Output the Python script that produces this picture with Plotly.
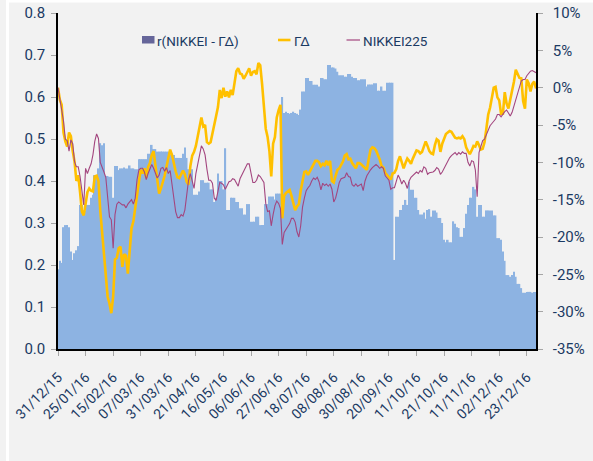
import plotly.graph_objects as go

# Correlation r(NIKKEI - ΓΔ), left axis, one value per trading day
corr = [
    0.19, 0.21, 0.205, 0.29, 0.295, 0.295, 0.29, 0.232, 0.212, 0.228,
    0.235, 0.245, 0.343, 0.343, 0.33, 0.33, 0.343, 0.343, 0.36, 0.367,
    0.414, 0.414, 0.43, 0.49, 0.485, 0.49, 0.41, 0.412, 0.41, 0.41,
    0.36, 0.436, 0.436, 0.426, 0.43, 0.43, 0.432, 0.43, 0.43, 0.437,
    0.43, 0.43, 0.428, 0.428, 0.452, 0.452, 0.452, 0.452, 0.452, 0.465,
    0.465, 0.486, 0.476, 0.476, 0.47, 0.47, 0.47, 0.47, 0.47, 0.47,
    0.47, 0.462, 0.462, 0.462, 0.455, 0.455, 0.455, 0.455, 0.465, 0.48,
    0.455, 0.428, 0.428, 0.428, 0.367, 0.367, 0.367, 0.375, 0.402, 0.402,
    0.396, 0.396, 0.396, 0.38, 0.38, 0.35, 0.36, 0.418, 0.40, 0.40,
    0.38, 0.478, 0.331, 0.331, 0.36, 0.36, 0.36, 0.35, 0.35, 0.335,
    0.335, 0.32, 0.32, 0.345, 0.345, 0.303, 0.303, 0.303, 0.315, 0.315,
    0.295, 0.295, 0.295, 0.345, 0.345, 0.363, 0.363, 0.363, 0.356, 0.37,
    0.37, 0.37, 0.60, 0.562, 0.565, 0.562, 0.56, 0.562, 0.565, 0.562,
    0.56, 0.557, 0.57, 0.613, 0.613, 0.645, 0.645, 0.638, 0.638, 0.629,
    0.629, 0.629, 0.625, 0.645, 0.645, 0.642, 0.642, 0.676, 0.676, 0.67,
    0.67, 0.668, 0.66, 0.652, 0.652, 0.652, 0.648, 0.648, 0.655, 0.655,
    0.648, 0.645, 0.645, 0.64, 0.64, 0.642, 0.642, 0.642, 0.625, 0.63,
    0.63, 0.63, 0.633, 0.633, 0.615, 0.615, 0.625, 0.615, 0.615, 0.634,
    0.634, 0.634, 0.634, 0.212, 0.315, 0.315, 0.331, 0.331, 0.343, 0.355,
    0.343, 0.398, 0.379, 0.379, 0.36, 0.36, 0.331, 0.32, 0.32, 0.325,
    0.31, 0.331, 0.333, 0.315, 0.33, 0.33, 0.325, 0.312, 0.312, 0.3,
    0.26, 0.254, 0.26, 0.254, 0.254, 0.304, 0.298, 0.29, 0.288, 0.267,
    0.267, 0.288, 0.322, 0.343, 0.36, 0.36, 0.386, 0.38, 0.315, 0.343,
    0.343, 0.315, 0.315, 0.33, 0.33, 0.33, 0.33, 0.318, 0.318, 0.264,
    0.264, 0.26, 0.232, 0.21, 0.176, 0.176, 0.172, 0.176, 0.184, 0.172,
    0.155, 0.155, 0.145, 0.134, 0.134, 0.136, 0.136, 0.136, 0.134, 0.136,
    0.136,
]

# ΓΔ cumulative return (%), right axis
gamma_delta = [
    0.0, -1.6, -2.3, -6.0, -7.2, -7.9, -6.0, -6.5, -8.5, -9.9,
    -12.5, -11.7, -14.0, -16.6, -17.1, -15.2, -14.0, -13.5, -13.8, -13.9,
    -11.9, -11.8, -12.5, -16.5, -19.5, -21.5, -25.0, -28.0, -28.9, -30.2,
    -28.0, -23.0, -22.8, -21.5, -21.3, -24.0, -22.3, -22.5, -24.9, -21.8,
    -18.8, -17.9, -16.0, -14.0, -12.6, -11.0, -11.5, -10.8, -12.1, -10.6,
    -10.1, -9.0, -8.5, -10.4, -12.4, -14.2, -13.5, -12.8, -11.8, -10.6,
    -9.2, -8.3, -9.0, -10.2, -11.2, -12.0, -12.1, -11.6, -11.1, -11.6,
    -12.6, -13.0, -10.5, -9.1, -8.6, -7.8, -6.5, -5.0, -4.0, -5.2,
    -5.0, -7.3, -7.5, -7.3, -6.0, -4.6, -3.8, -2.6, -0.3, -1.4,
    0.0, -1.2, -0.5, -1.3, -0.3, -1.0, 0.5, 2.2, 2.6, 1.9,
    1.8, 1.2, 1.6, 2.1, 2.6, 1.6, 2.1, 2.2, 1.8, 3.3,
    3.0, 0.5, -3.0, -5.5, -6.6, -8.5, -11.9, -7.5, -6.6, -4.0,
    -3.0, -2.3, -17.5, -14.5, -14.1, -13.9, -13.7, -14.5, -15.3, -16.4,
    -15.9, -15.6, -13.8, -12.5, -11.3, -11.2, -11.7, -11.2, -10.7, -10.1,
    -9.8, -9.8, -10.0, -10.5, -10.2, -10.4, -9.8, -10.4, -9.8, -12.5,
    -12.7, -11.8, -11.0, -10.8, -10.3, -9.9, -9.1, -8.9, -9.6, -9.5,
    -10.1, -10.4, -10.8, -10.1, -10.1, -10.3, -10.5, -10.8, -11.0, -9.6,
    -8.3, -8.0, -8.1, -8.4, -8.9, -9.6, -10.5, -10.7, -11.4, -11.7,
    -11.9, -12.3, -11.5, -11.4, -10.9, -9.8, -9.2, -10.2, -10.8, -10.1,
    -9.5, -9.8, -10.2, -9.5, -9.0, -8.4, -8.5, -8.8, -8.6, -7.9,
    -7.2, -7.8, -8.5, -8.8, -8.9, -7.7, -6.9, -7.1, -8.6, -7.5,
    -6.8, -6.2, -6.0, -5.8, -5.9, -6.4, -6.7, -6.8, -6.7, -6.8,
    -6.5, -6.9, -8.0, -8.5, -8.9, -8.4, -7.8, -7.9, -7.2, -7.7,
    -8.3, -8.2, -7.3, -5.5, -3.6, -2.7, -1.2, 0.0, 0.1, -1.3,
    -1.7, -3.5, -3.5, -0.6, -2.1, -2.8, -1.6, -0.5, 0.8, 2.4,
    1.8, 1.3, 1.25, -1.8, -2.8, 1.1, 0.6, -0.5, 0.5, 0.8,
    -0.1,
]

# NIKKEI225 cumulative return (%), right axis
nikkei = [
    0.0, -1.5, -3.2, -4.5, -6.9, -7.1, -8.5, -7.0, -7.5, -9.9,
    -10.6, -10.6, -11.9, -14.0, -15.7, -10.8, -11.5, -10.8, -10.2, -9.0,
    -7.2, -6.2, -6.8, -10.0, -10.8, -11.3, -12.0, -15.0, -17.3, -17.7,
    -21.5, -17.0, -15.6, -15.3, -15.5, -15.7, -15.7, -16.1, -15.6, -15.3,
    -15.0, -15.6, -14.8, -12.3, -11.0, -10.8, -10.8, -11.3, -12.3, -11.5,
    -10.8, -10.3, -10.8, -11.6, -12.1, -11.7, -10.8, -10.7, -11.2, -10.7,
    -11.5, -11.1, -13.2, -15.2, -16.6, -17.4, -17.4, -17.0, -17.2, -16.4,
    -14.6, -12.4, -11.5, -12.5, -13.5, -11.5, -10.4, -8.9, -7.8, -8.2,
    -9.0, -10.9, -12.4, -12.4, -12.8, -14.8, -15.1, -13.9, -12.7, -12.8,
    -13.0, -13.6, -13.0, -12.6, -12.5, -12.2, -12.3, -12.7, -13.2, -12.2,
    -11.7, -11.4, -10.9, -10.2, -10.2, -11.7, -12.7, -12.7, -12.4, -11.7,
    -11.9, -12.3, -12.7, -15.5, -16.6, -16.5, -18.5, -17.0, -15.8, -15.2,
    -15.5, -16.2, -21.0, -19.4, -18.9, -18.6, -18.2, -17.5, -17.5, -18.0,
    -19.3, -20.0, -18.5, -16.0, -14.8, -13.8, -13.4, -13.1, -12.5, -12.1,
    -12.3, -12.0, -12.6, -13.7, -12.8, -13.1, -12.9, -13.2, -12.9, -13.6,
    -15.3, -14.8, -13.8, -12.7, -12.2, -12.1, -12.0, -11.4, -11.9, -12.0,
    -13.0, -13.2, -12.9, -13.2, -13.0, -12.9, -13.8, -12.5, -11.8, -11.3,
    -11.0, -10.7, -10.5, -10.3, -10.5, -10.8, -10.6, -10.8, -11.8, -12.1,
    -12.4, -13.6, -13.4, -13.4, -12.5, -11.7, -12.2, -12.9, -12.4, -12.8,
    -13.5, -12.5, -12.0, -11.8, -11.6, -11.3, -11.5, -11.1, -11.3, -10.6,
    -10.8, -11.6, -11.4, -11.4, -11.3, -11.1, -10.7, -10.9, -11.6, -11.3,
    -10.8, -10.5, -10.0, -9.4, -9.1, -8.9, -8.7, -9.0, -8.7, -8.9,
    -8.6, -8.8, -8.8, -10.0, -10.5, -9.8, -9.9, -11.0, -14.6, -8.7,
    -7.8, -7.1, -6.9, -6.2, -5.7, -5.1, -4.8, -4.5, -4.2, -3.6,
    -3.6, -3.9, -3.5, -3.2, -3.0, -3.5, -3.8, -3.3, -2.5, -1.5,
    -0.8, 0.0, 0.9, 1.1, 1.1, 1.6, 1.9, 2.2, 2.3, 2.1,
    2.0,
]

tick_labels = [
    "31/12/15", "25/01/16", "15/02/16", "07/03/16", "31/03/16", "21/04/16",
    "16/05/16", "06/06/16", "27/06/16", "18/07/16", "08/08/16", "30/08/16",
    "20/09/16", "11/10/16", "21/10/16", "11/11/16", "02/12/16", "23/12/16",
]
tick_step = 15
right_ticks = [-35, -30, -25, -20, -15, -10, -5, 0, 5, 10]

series_names = ["r(NIKKEI - ΓΔ)", "ΓΔ", "NIKKEI225"]
bar_color = "#8db3e2"
bar_legend_color = "#66669a"
gd_color = "#ffc000"
nk_color = "#a3467f"

x = list(range(len(corr)))
navy = "#1b3a63"
font_fam = "Roboto, 'Open Sans', sans-serif"

fig = go.Figure()
fig.add_trace(go.Bar(x=x, y=corr, marker=dict(color=bar_color, line=dict(width=0)),
                     name=series_names[0], yaxis="y"))
fig.add_trace(go.Scatter(x=x, y=gamma_delta, mode="lines", name=series_names[1],
                         line=dict(color=gd_color, width=2.6), yaxis="y2"))
fig.add_trace(go.Scatter(x=x, y=nikkei, mode="lines", name=series_names[2],
                         line=dict(color=nk_color, width=1.1), yaxis="y2"))

L, R, T, B = 58, 57, 13, 112
W, H = 593, 461
pw, ph = W - L - R, H - T - B

def px_x(px):
    return (px - L) / pw

def px_y(py):
    return (H - B - py) / ph

shapes = [
    # thin white frame strips of the original picture
    dict(type="rect", xref="paper", yref="paper", layer="below",
         x0=px_x(6), x1=px_x(9), y0=px_y(H), y1=px_y(0),
         fillcolor="white", line=dict(width=0)),
    dict(type="rect", xref="paper", yref="paper", layer="below",
         x0=px_x(9), x1=px_x(W), y0=px_y(2.5), y1=px_y(0),
         fillcolor="white", line=dict(width=0)),
    # legend swatches
    dict(type="rect", xref="paper", yref="paper",
         x0=px_x(142), x1=px_x(154.5), y0=px_y(43.5), y1=px_y(36),
         fillcolor=bar_legend_color, line=dict(width=0)),
    dict(type="line", xref="paper", yref="paper",
         x0=px_x(278), x1=px_x(290.5), y0=px_y(40), y1=px_y(40),
         line=dict(color=gd_color, width=2.6)),
    dict(type="line", xref="paper", yref="paper",
         x0=px_x(346.5), x1=px_x(360), y0=px_y(40), y1=px_y(40),
         line=dict(color=nk_color, width=1.2)),
]

legend_text_x = [155, 291.5, 360.5]
annotations = [
    dict(text=name, xref="paper", yref="paper", x=px_x(tx), y=px_y(40.5),
         xanchor="left", yanchor="middle", showarrow=False,
         font=dict(size=13.5, color=navy, family=font_fam))
    for name, tx in zip(series_names, legend_text_x)
]

fig.update_layout(
    width=W, height=H,
    margin=dict(l=L, r=R, t=T, b=B, pad=0, autoexpand=False),
    paper_bgcolor="#f2f2f2", plot_bgcolor="#f2f2f2",
    bargap=0.12,
    font=dict(family=font_fam, color=navy),
    shapes=shapes,
    annotations=annotations,
    showlegend=False,
    hovermode=False,
    xaxis=dict(range=[0, len(corr) - 1], tickmode="array",
               tickvals=[i * tick_step for i in range(len(tick_labels))],
               ticktext=tick_labels, tickangle=-45, automargin=False,
               tickfont=dict(size=14, color=navy), ticklabelstandoff=8,
               showline=True, linecolor="black", linewidth=1.5,
               ticks="outside", ticklen=5, tickcolor="#a6a6a6",
               showgrid=False, zeroline=False),
    yaxis=dict(range=[0, 0.8], dtick=0.1, tickformat=".1f", automargin=False,
               tickfont=dict(size=15, color=navy), ticklabelstandoff=3,
               showline=True, linecolor="black", linewidth=1.5,
               ticks="outside", ticklen=5, tickcolor="#a6a6a6",
               showgrid=False, zeroline=False),
    yaxis2=dict(range=[-35, 10], tickmode="array", tickvals=right_ticks,
                ticktext=[f"{v}%" for v in right_ticks], automargin=False,
                overlaying="y", side="right",
                tickfont=dict(size=15, color=navy), ticklabelstandoff=7,
                showline=True, linecolor="black", linewidth=1.5,
                ticks="outside", ticklen=5, tickcolor="#a6a6a6",
                showgrid=False, zeroline=False),
)

fig.write_html(
    "out.html",
    config={"displayModeBar": False},
    post_script=(
        "document.body.style.margin='0';"
        "document.body.style.background='#f2f2f2';"
        "document.documentElement.style.background='#f2f2f2';"
        "document.documentElement.style.overflow='hidden';"
    ),
)
